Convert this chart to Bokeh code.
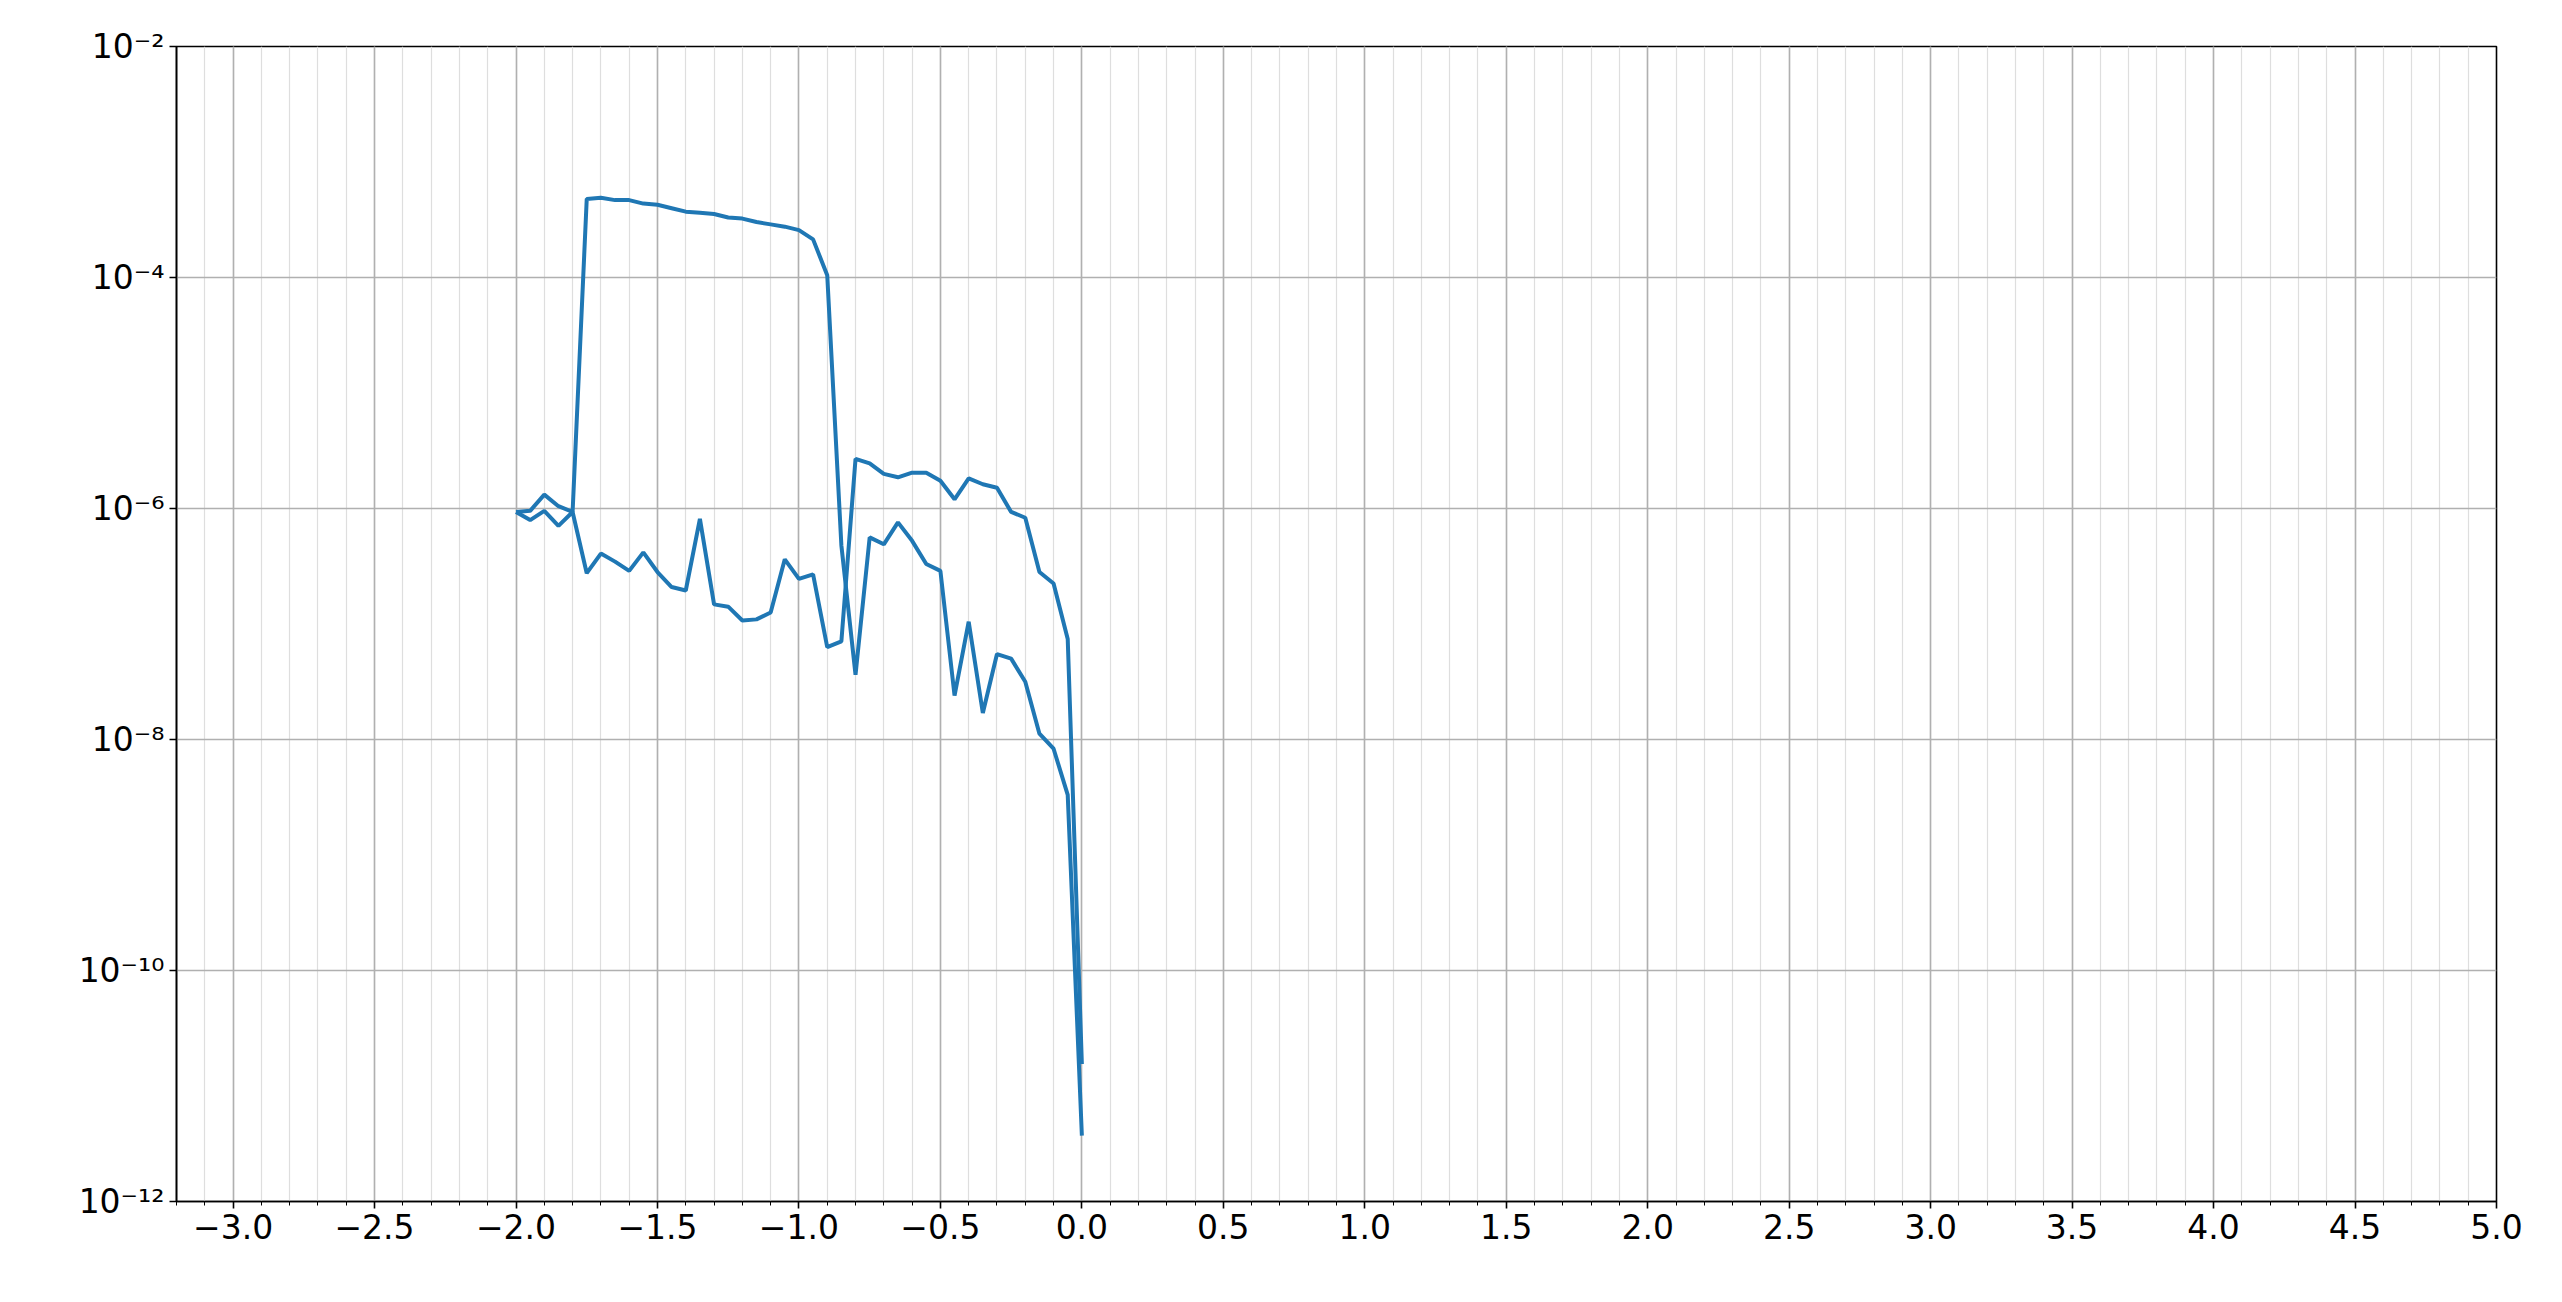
from bokeh.plotting import figure
from bokeh.embed import file_html
from bokeh.resources import INLINE
from bokeh.models import FixedTicker, Range1d

# x positions of the samples
x = [round(-2.0 + 0.05 * i, 2) for i in range(41)]

# log10 of the values
exp_a = [-6.03, -6.02, -5.88, -5.98, -6.03, -3.32, -3.31, -3.33, -3.33, -3.36,
         -3.37, -3.40, -3.43, -3.44, -3.45, -3.48, -3.49, -3.52, -3.54, -3.56,
         -3.59, -3.67, -3.98, -6.32, -7.44, -6.25, -6.31, -6.12, -6.28, -6.48,
         -6.54, -7.62, -6.98, -7.77, -7.26, -7.30, -7.50, -7.95, -8.08, -8.48,
         -11.43]
exp_b = [-6.03, -6.10, -6.02, -6.15, -6.03, -6.56, -6.39, -6.46, -6.54, -6.38,
         -6.55, -6.68, -6.71, -6.09, -6.83, -6.85, -6.97, -6.96, -6.90, -6.44,
         -6.61, -6.57, -7.20, -7.15, -5.57, -5.61, -5.70, -5.73, -5.69, -5.69,
         -5.76, -5.92, -5.74, -5.79, -5.82, -6.03, -6.08, -6.55, -6.65, -7.13,
         -10.81]
y_a = [10 ** e for e in exp_a]
y_b = [10 ** e for e in exp_b]

x_ticks = [round(-3.0 + 0.5 * i, 1) for i in range(17)]
x_minor = [round(-3.2 + 0.1 * i, 1) for i in range(83)]
y_ticks = [1e-12, 1e-10, 1e-8, 1e-6, 1e-4, 1e-2]
y_labels = ["10⁻¹²", "10⁻¹⁰", "10⁻⁸", "10⁻⁶", "10⁻⁴", "10⁻²"]

p = figure(width=2546, height=1286, y_axis_type="log",
           x_range=Range1d(-3.2, 5.0), y_range=Range1d(1e-12, 1e-2),
           output_backend="svg", toolbar_location=None,
           min_border_left=176, min_border_right=50,
           min_border_top=46, min_border_bottom=85)

p.line(x, y_a, line_color="#1f77b4", line_width=4)
p.line(x, y_b, line_color="#1f77b4", line_width=4)

p.xaxis.ticker = FixedTicker(ticks=x_ticks, minor_ticks=x_minor)
p.xaxis.major_label_overrides = {t: f"{t:.1f}".replace("-", "−") for t in x_ticks}
p.yaxis.ticker = FixedTicker(ticks=y_ticks, minor_ticks=[])
p.yaxis.major_label_overrides = dict(zip(y_ticks, y_labels))

for ax in (p.xaxis, p.yaxis):
    ax.major_label_text_font = "DejaVu Sans"
    ax.major_label_text_font_size = "33px"
    ax.major_label_text_color = "black"
    ax.axis_line_color = "black"
    ax.axis_line_width = 1.6
    ax.major_tick_line_color = "black"
    ax.major_tick_line_width = 1.6
    ax.major_tick_in = 0
    ax.major_tick_out = 7
    ax.minor_tick_line_color = "black"
    ax.minor_tick_in = 0
    ax.minor_tick_out = 4

p.xgrid.grid_line_color = "#b0b0b0"
p.xgrid.grid_line_width = 1.6
p.xgrid.minor_grid_line_color = "#dedede"
p.xgrid.minor_grid_line_width = 1.2
p.ygrid.grid_line_color = "#b0b0b0"
p.ygrid.grid_line_width = 1.6
p.outline_line_color = "black"
p.outline_line_width = 1.6

open("out.html", "w").write(file_html(p, INLINE))
